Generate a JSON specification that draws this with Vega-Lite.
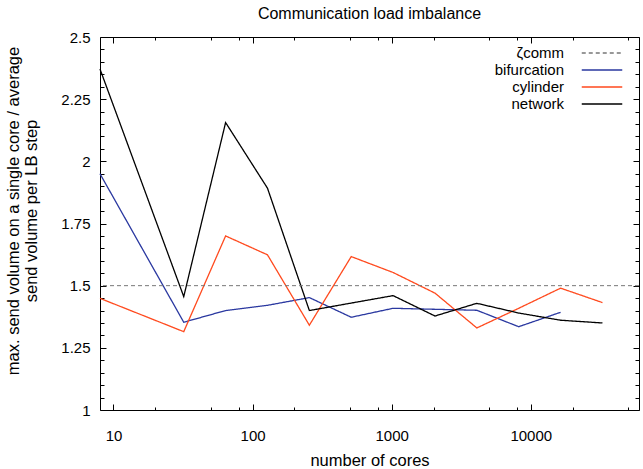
{
  "$schema": "https://vega.github.io/schema/vega-lite/v6.json",
  "width": 539,
  "height": 373,
  "autosize": "none",
  "padding": {"left": 100, "top": 37, "right": 4, "bottom": 59},
  "background": "white",
  "config": {
    "font": "Liberation Sans",
    "view": {"stroke": "black", "strokeWidth": 1},
    "axis": {"domain": false, "grid": false, "labelFontSize": 15, "titleFontSize": 16.5, "labelColor": "black", "titleColor": "black", "titleFontWeight": "normal", "tickColor": "black", "tickWidth": 1},
    "legend": {"orient": "none", "legendX": 493.5, "legendY": 7.5, "symbolType": "M-2.7,0H2.7", "symbolSize": 225, "symbolStrokeWidth": 1.3, "symbolFillColor": "transparent", "labelFontSize": 15, "labelColor": "black", "labelAlign": "right", "labelOffset": -46.5, "rowPadding": -1, "labelLimit": 200, "title": null}
  },
  "title": {"text": "Communication load imbalance", "fontSize": 16, "fontWeight": "normal", "offset": 8, "color": "black"},
  "datasets": {
    "series": [
      {"cores": 8, "value": 1.950, "series": "bifurcation"},
      {"cores": 32, "value": 1.353, "series": "bifurcation"},
      {"cores": 64, "value": 1.400, "series": "bifurcation"},
      {"cores": 128, "value": 1.421, "series": "bifurcation"},
      {"cores": 256, "value": 1.452, "series": "bifurcation"},
      {"cores": 512, "value": 1.373, "series": "bifurcation"},
      {"cores": 1024, "value": 1.409, "series": "bifurcation"},
      {"cores": 2048, "value": 1.405, "series": "bifurcation"},
      {"cores": 4096, "value": 1.401, "series": "bifurcation"},
      {"cores": 8192, "value": 1.335, "series": "bifurcation"},
      {"cores": 16384, "value": 1.393, "series": "bifurcation"},
      {"cores": 8, "value": 1.449, "series": "cylinder"},
      {"cores": 32, "value": 1.315, "series": "cylinder"},
      {"cores": 64, "value": 1.700, "series": "cylinder"},
      {"cores": 128, "value": 1.624, "series": "cylinder"},
      {"cores": 256, "value": 1.341, "series": "cylinder"},
      {"cores": 512, "value": 1.617, "series": "cylinder"},
      {"cores": 1024, "value": 1.553, "series": "cylinder"},
      {"cores": 2048, "value": 1.470, "series": "cylinder"},
      {"cores": 4096, "value": 1.330, "series": "cylinder"},
      {"cores": 8192, "value": 1.409, "series": "cylinder"},
      {"cores": 16384, "value": 1.490, "series": "cylinder"},
      {"cores": 32768, "value": 1.432, "series": "cylinder"},
      {"cores": 8, "value": 2.371, "series": "network"},
      {"cores": 32, "value": 1.456, "series": "network"},
      {"cores": 64, "value": 2.156, "series": "network"},
      {"cores": 128, "value": 1.892, "series": "network"},
      {"cores": 256, "value": 1.400, "series": "network"},
      {"cores": 512, "value": 1.430, "series": "network"},
      {"cores": 1024, "value": 1.460, "series": "network"},
      {"cores": 2048, "value": 1.378, "series": "network"},
      {"cores": 4096, "value": 1.429, "series": "network"},
      {"cores": 8192, "value": 1.390, "series": "network"},
      {"cores": 16384, "value": 1.361, "series": "network"},
      {"cores": 32768, "value": 1.350, "series": "network"}
    ],
    "zeta": [{"series": "ζcomm", "value": 1.5}]
  },
  "layer": [
    {
      "data": {"name": "series"},
      "mark": {"type": "line", "strokeWidth": 1.3},
      "encoding": {
        "x": {"field": "cores", "type": "quantitative", "scale": {"type": "log", "domain": [8, 60000], "nice": false},
          "axis": {"orient": "bottom", "title": "number of cores", "values": [10, 20, 50, 80, 100, 200, 500, 800, 1000, 2000, 5000, 8000, 10000, 20000, 50000], "format": "d",
            "labelExpr": "indexof(['10','100','1000','10000'], datum.label) >= 0 ? datum.label : ''",
            "tickSize": {"condition": {"test": "indexof([10,100,1000,10000], datum.value) >= 0", "value": -6}, "value": -3},
            "labelPadding": 24, "titlePadding": 9}},
        "y": {"field": "value", "type": "quantitative", "scale": {"domain": [1, 2.5], "nice": false, "zero": false},
          "axis": {"orient": "left", "title": ["max. send volume on a single core / average", "send volume per LB step"],
            "values": [1, 1.05, 1.1, 1.15, 1.2, 1.25, 1.3, 1.35, 1.4, 1.45, 1.5, 1.55, 1.6, 1.65, 1.7, 1.75, 1.8, 1.85, 1.9, 1.95, 2, 2.05, 2.1, 2.15, 2.2, 2.25, 2.3, 2.35, 2.4, 2.45, 2.5],
            "format": "~g",
            "labelExpr": "abs(datum.value*4 - round(datum.value*4)) < 0.001 ? datum.label : ''",
            "tickSize": {"condition": {"test": "abs(datum.value*4 - round(datum.value*4)) < 0.001", "value": -6}, "value": -4},
            "labelPadding": 16, "titlePadding": 21, "titleY": 173.5}},
        "color": {"field": "series", "type": "nominal", "scale": {"domain": ["ζcomm", "bifurcation", "cylinder", "network"], "range": ["#777777", "#2a38a0", "#ff4a1e", "#000000"]}},
        "strokeDash": {"field": "series", "type": "nominal", "scale": {"domain": ["ζcomm", "bifurcation", "cylinder", "network"], "range": [[4, 3], [1, 0], [1, 0], [1, 0]]}}
      }
    },
    {
      "data": {"name": "zeta"},
      "mark": {"type": "rule", "strokeWidth": 1},
      "encoding": {
        "y": {"field": "value", "type": "quantitative", "scale": {"domain": [1, 2.5], "nice": false, "zero": false}, "axis": null},
        "color": {"field": "series", "type": "nominal"},
        "strokeDash": {"field": "series", "type": "nominal"}
      }
    },
    {
      "data": {"name": "series"},
      "mark": {"type": "point", "opacity": 0},
      "encoding": {
        "x": {"field": "cores", "type": "quantitative", "scale": {"type": "log", "domain": [8, 60000], "nice": false},
          "axis": {"orient": "top", "title": null, "labels": false, "values": [10, 20, 50, 80, 100, 200, 500, 800, 1000, 2000, 5000, 8000, 10000, 20000, 50000],
            "tickSize": {"condition": {"test": "indexof([10,100,1000,10000], datum.value) >= 0", "value": -6}, "value": -3}}},
        "y": {"field": "value", "type": "quantitative", "scale": {"domain": [1, 2.5], "nice": false, "zero": false},
          "axis": {"orient": "right", "title": null, "labels": false,
            "values": [1, 1.05, 1.1, 1.15, 1.2, 1.25, 1.3, 1.35, 1.4, 1.45, 1.5, 1.55, 1.6, 1.65, 1.7, 1.75, 1.8, 1.85, 1.9, 1.95, 2, 2.05, 2.1, 2.15, 2.2, 2.25, 2.3, 2.35, 2.4, 2.45, 2.5],
            "tickSize": {"condition": {"test": "abs(datum.value*4 - round(datum.value*4)) < 0.001", "value": -6}, "value": -4}}}
      }
    }
  ],
  "resolve": {"axis": {"x": "independent", "y": "independent"}}
}
